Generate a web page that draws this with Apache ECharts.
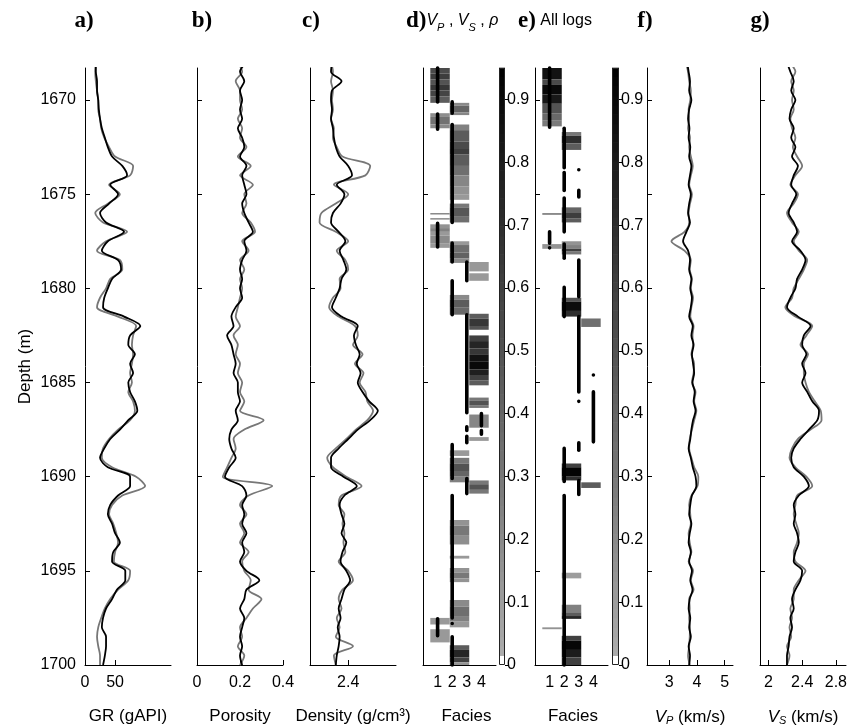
<!DOCTYPE html>
<html>
<head>
<meta charset="utf-8">
<script src="https://cdn.jsdelivr.net/npm/echarts@6/dist/echarts.min.js"></script>
<style>
  html, body { margin: 0; padding: 0; background: #fff; }
  #chart { width: 860px; height: 727px; }
</style>
</head>
<body>
<div id="chart"></div>
<script>
// ---- depth sampling of the well logs (m) ----
const depths = [1668, 1668.5, 1669, 1669.5, 1670, 1670.5, 1671, 1671.5, 1672, 1672.5,
  1673, 1673.5, 1674, 1674.5, 1675, 1675.5, 1676, 1676.5, 1677, 1677.5,
  1678, 1678.5, 1679, 1679.5, 1680, 1680.5, 1681, 1681.5, 1682, 1682.5,
  1683, 1683.5, 1684, 1684.5, 1685, 1685.5, 1686, 1686.5, 1687, 1687.5,
  1688, 1688.5, 1689, 1689.5, 1690, 1690.5, 1691, 1691.5, 1692, 1692.5,
  1693, 1693.5, 1694, 1694.5, 1695, 1695.5, 1696, 1696.5, 1697, 1697.5,
  1698, 1698.5, 1699, 1699.5, 1700];

// gamma ray (gAPI): measured log (gray) and prediction (black)
const grLog = [18, 17, 18, 20, 22, 22, 25, 27, 32, 40, 50, 80, 75, 40, 58, 38, 17, 30, 70, 35,
  20, 58, 62, 42, 35, 25, 20, 55, 85, 80, 78, 80, 78, 75, 78, 72, 80, 83, 75, 55,
  40, 30, 28, 45, 85, 100, 62, 45, 40, 47, 52, 55, 50, 48, 75, 72, 55, 42, 33, 27,
  22, 20, 22, 25, 25];
const grPred = [18, 18, 20, 20, 22, 23, 25, 28, 33, 38, 45, 62, 70, 42, 55, 40, 25, 35, 65, 38,
  28, 55, 60, 45, 38, 32, 30, 65, 92, 75, 72, 83, 75, 80, 72, 75, 83, 87, 72, 58,
  42, 32, 25, 38, 75, 75, 55, 42, 38, 45, 50, 58, 47, 45, 67, 67, 53, 45, 35, 30,
  28, 35, 35, 33, 30];

// porosity (fraction)
const phiLog = [.19, .21, .18, .20, .20, .21, .19, .21, .20, .23, .19, .25, .20, .26, .22, .23, .21, .25, .27, .21,
  .24, .20, .22, .20, .21, .20, .19, .18, .20, .17, .19, .18, .20, .19, .21, .20, .22, .20, .31, .22,
  .17, .18, .16, .14, .12, .35, .24, .20, .23, .20, .22, .20, .24, .21, .22, .25, .24, .30, .26, .23,
  .20, .21, .19, .22, .20];
const phiPred = [.23, .20, .22, .20, .21, .20, .21, .19, .21, .22, .20, .23, .21, .22, .23, .21, .22, .24, .26, .22,
  .23, .21, .20, .21, .20, .21, .18, .16, .17, .14, .16, .17, .18, .17, .19, .19, .20, .18, .19, .16,
  .15, .16, .18, .15, .13, .21, .23, .21, .22, .21, .23, .21, .22, .20, .23, .29, .23, .22, .20, .22,
  .21, .20, .21, .20, .21];

// bulk density (g/cm3)
const rhoLog = [2.22, 2.24, 2.22, 2.24, 2.23, 2.24, 2.22, 2.25, 2.24, 2.28, 2.34, 2.63, 2.58, 2.25, 2.40, 2.27, 2.12, 2.10, 2.27, 2.40,
  2.28, 2.37, 2.40, 2.31, 2.32, 2.24, 2.20, 2.30, 2.47, 2.50, 2.45, 2.55, 2.47, 2.56, 2.52, 2.58, 2.60, 2.66, 2.60, 2.48,
  2.38, 2.27, 2.18, 2.24, 2.38, 2.54, 2.33, 2.30, 2.36, 2.34, 2.36, 2.35, 2.37, 2.30, 2.40, 2.45, 2.34, 2.30, 2.33, 2.28,
  2.31, 2.27, 2.45, 2.25, 2.27];
const rhoPred = [2.23, 2.22, 2.33, 2.23, 2.22, 2.23, 2.22, 2.24, 2.25, 2.27, 2.31, 2.40, 2.44, 2.28, 2.36, 2.32, 2.24, 2.22, 2.30, 2.37,
  2.31, 2.35, 2.38, 2.33, 2.31, 2.27, 2.23, 2.33, 2.50, 2.46, 2.48, 2.52, 2.49, 2.53, 2.50, 2.55, 2.62, 2.71, 2.63, 2.50,
  2.40, 2.30, 2.22, 2.22, 2.35, 2.49, 2.36, 2.31, 2.33, 2.36, 2.33, 2.38, 2.34, 2.32, 2.38, 2.42, 2.36, 2.33, 2.30, 2.32,
  2.29, 2.31, 2.30, 2.28, 2.27];

// P-wave velocity (km/s)
const vpLog = [3.60, 3.68, 3.72, 3.78, 3.76, 3.70, 3.72, 3.68, 3.75, 3.72, 3.78, 3.85, 3.78, 3.72, 3.82, 3.75, 3.70, 3.72, 3.55, 3.08,
  3.55, 3.78, 3.74, 3.82, 3.78, 3.86, 3.80, 3.76, 3.88, 3.84, 3.86, 3.80, 3.90, 3.88, 3.82, 3.95, 3.90, 3.98, 3.90, 3.82,
  3.74, 3.72, 3.80, 3.90, 4.05, 4.02, 3.80, 3.72, 3.76, 3.78, 3.70, 3.74, 3.80, 3.70, 3.86, 3.78, 3.88, 3.72, 3.74, 3.72,
  3.75, 3.74, 3.72, 3.68, 3.74];
const vpPred = [3.65, 3.70, 3.75, 3.72, 3.80, 3.72, 3.68, 3.73, 3.70, 3.76, 3.72, 3.80, 3.75, 3.70, 3.78, 3.72, 3.68, 3.75, 3.62, 3.50,
  3.68, 3.75, 3.72, 3.80, 3.76, 3.82, 3.78, 3.72, 3.85, 3.80, 3.88, 3.82, 3.86, 3.90, 3.84, 3.92, 3.88, 3.95, 3.86, 3.80,
  3.76, 3.70, 3.78, 3.85, 3.95, 3.98, 3.82, 3.76, 3.72, 3.80, 3.74, 3.70, 3.78, 3.72, 3.82, 3.76, 3.84, 3.74, 3.70, 3.76,
  3.72, 3.78, 3.70, 3.75, 3.72];

// S-wave velocity (km/s)
const vsLog = [2.25, 2.32, 2.27, 2.30, 2.28, 2.30, 2.26, 2.28, 2.32, 2.29, 2.34, 2.40, 2.32, 2.26, 2.35, 2.30, 2.22, 2.28, 2.36, 2.30,
  2.36, 2.46, 2.42, 2.36, 2.30, 2.28, 2.20, 2.32, 2.52, 2.45, 2.38, 2.47, 2.42, 2.42, 2.44, 2.48, 2.55, 2.62, 2.63, 2.50,
  2.35, 2.28, 2.25, 2.32, 2.45, 2.52, 2.34, 2.32, 2.30, 2.33, 2.36, 2.34, 2.30, 2.32, 2.44, 2.36, 2.30, 2.30, 2.26, 2.28,
  2.25, 2.27, 2.22, 2.25, 2.22];
const vsPred = [2.22, 2.26, 2.30, 2.27, 2.32, 2.27, 2.25, 2.30, 2.27, 2.32, 2.28, 2.35, 2.30, 2.27, 2.33, 2.28, 2.24, 2.30, 2.34, 2.28,
  2.38, 2.44, 2.40, 2.34, 2.32, 2.26, 2.22, 2.35, 2.50, 2.42, 2.40, 2.45, 2.40, 2.44, 2.40, 2.46, 2.52, 2.60, 2.58, 2.48,
  2.38, 2.30, 2.27, 2.30, 2.42, 2.48, 2.36, 2.30, 2.32, 2.30, 2.34, 2.36, 2.32, 2.30, 2.40, 2.38, 2.32, 2.28, 2.30, 2.26,
  2.28, 2.25, 2.24, 2.22, 2.22];

// facies probability bands: [top depth, bottom depth, column, probability]
const bandsElastic = [
  [1668.3, 1668.6, 1, 0.55], [1668.6, 1668.9, 1, 0.62], [1668.9, 1669.2, 1, 0.50], [1669.2, 1669.5, 1, 0.65], [1669.5, 1669.8, 1, 0.58], [1669.8, 1670.15, 1, 0.45],
  [1670.15, 1670.3, 2, 0.20], [1670.3, 1670.65, 2, 0.40], [1670.65, 1670.8, 2, 0.22],
  [1670.7, 1670.9, 1, 0.18], [1670.9, 1671.3, 1, 0.33], [1671.3, 1671.5, 1, 0.20],
  [1671.3, 1671.6, 2, 0.25], [1671.6, 1672.2, 2, 0.45], [1672.2, 1672.6, 2, 0.55], [1672.6, 1672.9, 2, 0.62], [1672.9, 1673.5, 2, 0.45],
  [1673.5, 1674.0, 2, 0.35], [1674.0, 1674.6, 2, 0.22], [1674.6, 1675.0, 2, 0.15], [1675.0, 1675.3, 2, 0.12],
  [1675.5, 1675.7, 2, 0.30], [1675.7, 1676.2, 2, 0.48], [1676.2, 1676.5, 2, 0.35],
  [1676.0, 1676.08, 1, 0.20], [1676.27, 1676.35, 1, 0.20],
  [1676.6, 1676.8, 1, 0.15], [1676.8, 1677.0, 1, 0.25], [1677.0, 1677.2, 1, 0.12], [1677.2, 1677.6, 1, 0.20], [1677.6, 1677.85, 1, 0.12],
  [1677.5, 1677.7, 2, 0.12], [1677.7, 1678.1, 2, 0.35], [1678.1, 1678.4, 2, 0.42], [1678.4, 1678.65, 2, 0.20],
  [1678.6, 1679.1, 3, 0.12], [1679.2, 1679.6, 3, 0.12],
  [1680.35, 1680.6, 2, 0.20], [1680.6, 1681.0, 2, 0.45], [1681.0, 1681.4, 2, 0.38],
  [1681.35, 1681.6, 3, 0.45], [1681.6, 1682.0, 3, 0.65], [1682.0, 1682.2, 3, 0.50],
  [1682.5, 1682.8, 3, 0.60], [1682.8, 1683.2, 3, 0.75], [1683.2, 1683.5, 3, 0.65], [1683.5, 1683.9, 3, 0.85], [1683.9, 1684.3, 3, 0.90],
  [1684.3, 1684.6, 3, 0.78], [1684.6, 1684.9, 3, 0.60], [1684.9, 1685.15, 3, 0.45],
  [1685.8, 1685.95, 3, 0.30], [1685.95, 1686.2, 3, 0.50], [1686.2, 1686.35, 3, 0.30],
  [1686.7, 1687.4, 3, 0.22], [1687.9, 1688.1, 3, 0.12],
  [1688.6, 1688.9, 2, 0.12],
  [1689.0, 1689.3, 2, 0.30], [1689.3, 1689.7, 2, 0.50], [1689.7, 1690.0, 2, 0.40], [1690.0, 1690.3, 2, 0.25],
  [1690.2, 1690.4, 3, 0.30], [1690.4, 1690.7, 3, 0.50], [1690.7, 1690.9, 3, 0.30],
  [1692.3, 1692.6, 2, 0.15], [1692.6, 1693.1, 2, 0.30], [1693.1, 1693.6, 2, 0.18],
  [1694.2, 1694.35, 2, 0.12],
  [1694.85, 1695.1, 2, 0.15], [1695.1, 1695.4, 2, 0.30], [1695.4, 1695.6, 2, 0.15],
  [1696.55, 1696.9, 2, 0.20], [1696.9, 1697.4, 2, 0.35], [1697.4, 1697.7, 2, 0.25], [1697.7, 1698.0, 2, 0.12],
  [1697.5, 1697.85, 1, 0.12], [1698.1, 1698.8, 1, 0.12],
  [1698.95, 1699.2, 2, 0.45], [1699.2, 1699.6, 2, 0.75], [1699.6, 1699.85, 2, 0.60], [1699.85, 1700, 2, 0.15]
];
const bandsAll = [
  [1668.3, 1668.9, 1, 0.85], [1668.9, 1669.2, 1, 0.55], [1669.2, 1669.7, 1, 0.90], [1669.7, 1670.2, 1, 0.82], [1670.2, 1670.7, 1, 0.50],
  [1670.7, 1671.1, 1, 0.38], [1671.1, 1671.4, 1, 0.28],
  [1671.7, 1671.9, 2, 0.30], [1671.9, 1672.3, 2, 0.70], [1672.3, 1672.65, 2, 0.45],
  [1675.7, 1676.0, 2, 0.40], [1676.0, 1676.3, 2, 0.62], [1676.3, 1676.5, 2, 0.45],
  [1676.0, 1676.1, 1, 0.20],
  [1677.5, 1677.7, 2, 0.15], [1677.7, 1677.9, 2, 0.25], [1677.9, 1678.05, 2, 0.60], [1678.05, 1678.2, 2, 0.30],
  [1677.65, 1677.9, 1, 0.15],
  [1680.5, 1680.7, 2, 0.50], [1680.7, 1681.2, 2, 0.88], [1681.2, 1681.5, 2, 0.70],
  [1681.6, 1682.05, 3, 0.35],
  [1689.3, 1689.5, 2, 0.60], [1689.5, 1690.0, 2, 0.93], [1690.0, 1690.2, 2, 0.70],
  [1690.3, 1690.6, 3, 0.45],
  [1695.1, 1695.4, 2, 0.10],
  [1696.8, 1697.2, 2, 0.25], [1697.2, 1697.4, 2, 0.45], [1697.4, 1697.55, 2, 0.75],
  [1698.0, 1698.1, 1, 0.15],
  [1698.45, 1698.7, 2, 0.60], [1698.7, 1699.2, 2, 0.92], [1699.2, 1699.6, 2, 0.80], [1699.6, 1700, 2, 0.60]
];

// most likely facies along depth: [top depth, bottom depth, facies]
const mapElastic = [
  [1668.3, 1670.1, 1], [1670.1, 1670.7, 2], [1670.75, 1671.55, 1], [1671.3, 1676.5, 2], [1676.55, 1677.8, 1],
  [1677.6, 1678.6, 2], [1678.6, 1679.6, 3], [1679.6, 1681.4, 2], [1681.4, 1686.6, 3], [1686.65, 1687.3, 4],
  [1687.35, 1687.55, 3], [1687.55, 1687.75, 4], [1687.85, 1688.2, 3], [1688.3, 1690.1, 2], [1690.1, 1690.9, 3],
  [1691.0, 1697.5, 2], [1697.55, 1698.45, 1], [1697.8, 1697.8, 2], [1698.5, 1700, 2]
];
const mapAll = [
  [1668.3, 1671.45, 1], [1671.5, 1673.6, 2], [1673.7, 1673.7, 3], [1673.85, 1674.8, 2], [1674.8, 1675.15, 3],
  [1675.2, 1677.0, 2], [1677.0, 1677.6, 1], [1677.85, 1677.85, 1], [1677.65, 1678.4, 2], [1678.5, 1680.45, 3],
  [1679.95, 1681.5, 2], [1681.5, 1685.5, 3], [1684.6, 1684.6, 4], [1686.0, 1686.0, 3], [1685.5, 1688.15, 4],
  [1688.2, 1688.6, 3], [1688.5, 1690.25, 2], [1690.2, 1690.95, 3], [1691.0, 1700, 2]
];

// tick values
const depthTicks = [1670, 1675, 1680, 1685, 1690, 1695, 1700];
const grTicks = [0, 50];
const phiTicks = [0, 0.2, 0.4];
const rhoTicks = [2.4];
const faciesTicks = [1, 2, 3, 4];
const vpTicks = [3, 4, 5];
const vsTicks = [2, 2.4, 2.8];
const probTicks = [0, 0.1, 0.2, 0.3, 0.4, 0.5, 0.6, 0.7, 0.8, 0.9];

// ---- drawing ----
const SANS = '"Liberation Sans", Arial, Helvetica, sans-serif';
const SERIF = '"Liberation Serif", "Times New Roman", serif';
const TOP = 68, HEIGHT = 597;
const DEPTH_MIN = 1668.3, DEPTH_MAX = 1700;
const PROB_MAX = 0.95;
const COL_EDGES = [0.5, 1.8333, 3.1667, 4.5];

// gray colour map: white for ~0, light gray up to black at the top
function shade(p) {
  if (p < 0.015) return '#ffffff';
  const v = Math.round(175 * (1 - Math.min(p, PROB_MAX) / PROB_MAX));
  return 'rgb(' + v + ',' + v + ',' + v + ')';
}

const nameRich = {
  i: { fontStyle: 'italic', fontSize: 17, fontFamily: SANS, color: '#000', lineHeight: 18, verticalAlign: 'middle' },
  s: { fontStyle: 'italic', fontSize: 11, fontFamily: SANS, color: '#000', lineHeight: 10, verticalAlign: 'bottom' },
  n: { fontSize: 17, fontFamily: SANS, color: '#000', lineHeight: 18, verticalAlign: 'middle' }
};

const logPanels = [
  { left: 85, width: 86, min: 0, max: 143, ticks: grTicks, name: 'GR (gAPI)', gray: grLog, black: grPred, first: true },
  { left: 197, width: 86, min: 0, max: 0.4, ticks: phiTicks, name: 'Porosity', gray: phiLog, black: phiPred },
  { left: 310, width: 86, min: 2.0, max: 2.9, ticks: rhoTicks, name: 'Density (g/cm³)', gray: rhoLog, black: rhoPred },
  { left: 647, width: 86, min: 2.2, max: 5.3, ticks: vpTicks, name: '{i|V}{s|P}{n| (km/s)}', gray: vpLog, black: vpPred },
  { left: 760, width: 86, min: 1.9, max: 2.92, ticks: vsTicks, name: '{i|V}{s|S}{n| (km/s)}', gray: vsLog, black: vsPred }
];
const faciesPanels = [
  { left: 423, width: 73, cbLeft: 499, cbWidth: 6, bands: bandsElastic, runs: mapElastic, namePad: [0, 0, 0, 14] },
  { left: 535, width: 73, cbLeft: 612, cbWidth: 7, bands: bandsAll, runs: mapAll, namePad: [0, 0, 0, 3] }
];

const option = {
  animation: false,
  backgroundColor: '#fff',
  grid: [], xAxis: [], yAxis: [], series: [], graphic: []
};

const plain = v => String(v);

function addGrid(left, width) {
  option.grid.push({ left: left, top: TOP, width: width, height: HEIGHT, outerBoundsMode: 'none' });
  return option.grid.length - 1;
}

function depthAxis(g, withLabels) {
  return {
    gridIndex: g, type: 'value', inverse: true, min: DEPTH_MIN, max: DEPTH_MAX,
    axisLine: { show: true, onZero: false, lineStyle: { color: '#000', width: 1 } },
    axisTick: { show: true, inside: true, length: 5, customValues: depthTicks, lineStyle: { color: '#000', width: 1 } },
    axisLabel: { show: withLabels, customValues: depthTicks, formatter: plain, color: '#000', fontSize: 16, fontFamily: SANS, margin: 9 },
    splitLine: { show: false },
    name: withLabels ? 'Depth (m)' : '',
    nameLocation: 'middle', nameRotate: 90, nameGap: 51,
    nameTextStyle: { color: '#000', fontSize: 17, fontFamily: SANS }
  };
}

function valueAxis(g, min, max, ticks, name, showTicks, namePad) {
  return {
    gridIndex: g, type: 'value', min: min, max: max,
    axisLine: { show: true, onZero: false, lineStyle: { color: '#000', width: 1 } },
    axisTick: { show: showTicks, inside: true, length: 5, customValues: ticks, lineStyle: { color: '#000', width: 1 } },
    axisLabel: { show: true, customValues: ticks, formatter: plain, color: '#000', fontSize: 16, fontFamily: SANS, margin: 10 },
    splitLine: { show: false },
    name: name, nameLocation: 'middle', nameGap: 43,
    nameTextStyle: { color: '#000', fontSize: 17, fontFamily: SANS, rich: nameRich, padding: namePad || 0 }
  };
}

// log curves
logPanels.forEach(p => {
  const g = addGrid(p.left, p.width);
  option.xAxis.push(valueAxis(g, p.min, p.max, p.ticks, p.name, true));
  option.yAxis.push(depthAxis(g, !!p.first));
  [[p.gray, '#777777', 2], [p.black, '#000000', 3]].forEach(([vals, color, z]) => {
    option.series.push({
      type: 'line', xAxisIndex: g, yAxisIndex: g,
      data: depths.map((d, k) => [vals[k], d]),
      showSymbol: false, symbol: 'none', smooth: 0.3, clip: true, z: z,
      lineStyle: { color: color, width: 1.8 },
      silent: true
    });
  });
});

// facies probability panels with colour bars
faciesPanels.forEach(p => {
  const g = addGrid(p.left, p.width);
  option.xAxis.push(valueAxis(g, 0, 5, faciesTicks, 'Facies', false, p.namePad));
  option.yAxis.push(depthAxis(g, false));

  option.series.push({
    type: 'custom', xAxisIndex: g, yAxisIndex: g, data: p.bands, silent: true, z: 2,
    renderItem: (params, api) => {
      const col = api.value(2);
      const a = api.coord([COL_EDGES[col - 1], api.value(0)]);
      const b = api.coord([COL_EDGES[col], api.value(1)]);
      return {
        type: 'rect',
        shape: { x: a[0], y: a[1], width: b[0] - a[0], height: Math.max(b[1] - a[1], 1.5) },
        style: { fill: shade(api.value(3)) }
      };
    }
  });
  option.series.push({
    type: 'custom', xAxisIndex: g, yAxisIndex: g, data: p.runs, silent: true, z: 3,
    renderItem: (params, api) => {
      const a = api.coord([api.value(2), api.value(0)]);
      const b = api.coord([api.value(2), api.value(1)]);
      return {
        type: 'rect',
        shape: { x: a[0] - 1.8, y: a[1] - 1.8, width: 3.6, height: b[1] - a[1] + 3.6, r: 1.8 },
        style: { fill: '#000' }
      };
    }
  });

  // colour bar
  const c = addGrid(p.cbLeft, p.cbWidth);
  option.xAxis.push({ gridIndex: c, type: 'value', min: 0, max: 1, show: false });
  option.yAxis.push({
    gridIndex: c, type: 'value', min: 0, max: PROB_MAX, position: 'right',
    axisLine: { show: false, onZero: false },
    axisTick: { show: true, inside: false, length: 3, customValues: probTicks, lineStyle: { color: '#000' } },
    axisLabel: { show: true, customValues: probTicks, formatter: plain, color: '#000', fontSize: 16, fontFamily: SANS, margin: 2 },
    splitLine: { show: false }
  });
  const levels = [];
  for (let i = 0; i < 64; i++) levels.push([i * PROB_MAX / 64, (i + 1) * PROB_MAX / 64]);
  option.series.push({
    type: 'custom', xAxisIndex: c, yAxisIndex: c, data: levels, silent: true,
    renderItem: (params, api) => {
      const lo = api.value(0), hi = api.value(1);
      const a = api.coord([0, hi]), b = api.coord([1, lo]);
      return {
        type: 'rect',
        shape: { x: a[0], y: a[1] - 0.3, width: b[0] - a[0], height: b[1] - a[1] + 0.6 },
        style: { fill: shade((lo + hi) / 2) }
      };
    }
  });
  option.series.push({
    type: 'custom', xAxisIndex: c, yAxisIndex: c, data: [[0]], silent: true, z: 3,
    renderItem: (params, api) => {
      const a = api.coord([0, PROB_MAX]), b = api.coord([1, 0]);
      return {
        type: 'rect',
        shape: { x: a[0] + 0.5, y: a[1] + 0.5, width: b[0] - a[0] - 1, height: b[1] - a[1] - 1 },
        style: { fill: 'none', stroke: '#222', lineWidth: 1 }
      };
    }
  });
});

// panel letters and headings
const titleRich = {
  b: { fontFamily: SERIF, fontWeight: 'bold', fontSize: 23, fill: '#000' },
  i: { fontFamily: SANS, fontStyle: 'italic', fontSize: 16, fill: '#000', lineHeight: 24, verticalAlign: 'middle' },
  s: { fontFamily: SANS, fontStyle: 'italic', fontSize: 11, fill: '#000', lineHeight: 12, verticalAlign: 'bottom' },
  n: { fontFamily: SANS, fontSize: 16, fill: '#000', lineHeight: 24, verticalAlign: 'middle' }
};
const headings = [
  { x: 84, align: 'center', text: '{b|a)}' },
  { x: 202, align: 'center', text: '{b|b)}' },
  { x: 311, align: 'center', text: '{b|c)}' },
  { x: 406, align: 'left', text: '{b|d)}{i|V}{s|P}{n| , }{i|V}{s|S}{n| , }{i|ρ}' },
  { x: 518, align: 'left', text: '{b|e)}{n| All logs}' },
  { x: 645, align: 'center', text: '{b|f)}' },
  { x: 760, align: 'center', text: '{b|g)}' }
];
headings.forEach(h => {
  option.graphic.push({
    type: 'text', x: h.x, y: 21, silent: true,
    style: { text: h.text, rich: titleRich, align: h.align, verticalAlign: 'middle' }
  });
});

const chart = echarts.init(document.getElementById('chart'), null, { renderer: 'canvas' });
chart.setOption(option);
</script>
</body>
</html>
